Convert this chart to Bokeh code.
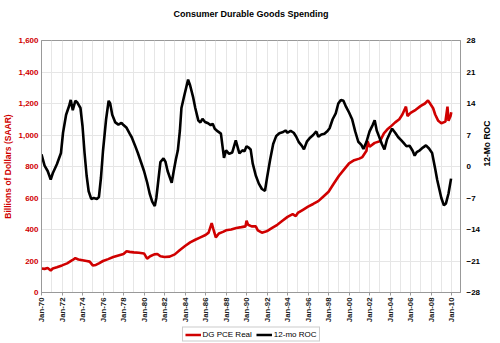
from bokeh.plotting import figure
from bokeh.models import (Range1d, LinearAxis, FixedTicker, NumeralTickFormatter,
                          Legend, LegendItem, Title)
from bokeh.layouts import column
from bokeh.embed import file_html
from bokeh.resources import INLINE
import math

# ---------------- data ----------------
pce_year = [1970.0, 1970.3, 1970.6, 1970.9, 1971.1, 1971.5, 1972.0, 1972.5, 1973.0, 1973.3,
            1973.6, 1974.0, 1974.4, 1974.7, 1975.0, 1975.3, 1975.6, 1976.0, 1976.5, 1977.0,
            1977.5, 1978.0, 1978.3, 1978.6, 1979.0, 1979.5, 1980.0, 1980.3, 1980.6, 1981.0,
            1981.3, 1981.6, 1982.0, 1982.5, 1983.0, 1983.5, 1984.0, 1984.5, 1985.0, 1985.5,
            1986.0, 1986.3, 1986.6, 1986.75, 1986.9, 1987.0, 1987.3, 1987.7, 1988.0, 1988.5,
            1989.0, 1989.5, 1989.9, 1990.0, 1990.15, 1990.5, 1990.9, 1991.1, 1991.5, 1991.8,
            1992.0, 1992.5, 1993.0, 1993.5, 1994.0, 1994.5, 1994.8, 1995.0, 1995.5, 1996.0,
            1996.5, 1997.0, 1997.5, 1998.0, 1998.5, 1999.0, 1999.5, 2000.0, 2000.5, 2001.0,
            2001.3, 2001.7, 2001.8, 2002.0, 2002.5, 2003.0, 2003.4, 2003.8, 2004.0, 2004.5,
            2004.9, 2005.2, 2005.55, 2005.7, 2006.0, 2006.5, 2007.0, 2007.4, 2007.7, 2007.9,
            2008.2, 2008.4, 2008.7, 2009.0, 2009.4, 2009.6, 2009.7, 2009.9, 2009.97]
pce_real = [152, 150, 155, 140, 152, 160, 172, 185, 205, 218,
            210, 205, 200, 196, 172, 175, 185, 200, 212, 225,
            235, 245, 262, 258, 255, 252, 248, 215, 230, 242,
            245, 230, 225, 228, 242, 270, 295, 318, 335, 350,
            365, 380, 440, 405, 372, 350, 375, 385, 395, 400,
            410, 415, 420, 455, 430, 420, 420, 395, 380, 385,
            390, 410, 430, 455, 480, 497, 485, 505, 525, 545,
            562, 580, 610, 640, 690, 740, 780, 820, 840, 850,
            860, 900, 960, 925, 950, 960, 1010, 1040, 1050, 1080,
            1100, 1130, 1180, 1120, 1140, 1160, 1185, 1200, 1220, 1200,
            1170, 1130, 1090, 1075, 1085, 1180, 1090, 1120, 1145]

roc_year = [1970.0, 1970.3, 1970.6, 1970.9, 1971.1, 1971.5, 1971.9, 1972.1, 1972.4, 1972.7,
            1972.85, 1973.05, 1973.3, 1973.5, 1973.8, 1974.0, 1974.2, 1974.4, 1974.6, 1974.85,
            1975.1, 1975.4, 1975.6, 1975.8, 1976.0, 1976.3, 1976.55, 1976.7, 1976.9, 1977.2,
            1977.5, 1977.8, 1978.0, 1978.3, 1978.6, 1978.8, 1979.1, 1979.4, 1979.7, 1980.0,
            1980.3, 1980.55, 1980.8, 1981.05, 1981.2, 1981.4, 1981.6, 1981.9, 1982.1, 1982.3,
            1982.7, 1982.9, 1983.1, 1983.3, 1983.5, 1983.65, 1983.9, 1984.3, 1984.5, 1984.8,
            1985.0, 1985.3, 1985.5, 1985.7, 1985.95, 1986.25, 1986.5, 1986.7, 1986.9, 1987.2,
            1987.5, 1987.8, 1988.0, 1988.3, 1988.6, 1988.95, 1989.3, 1989.6, 1989.8, 1990.0,
            1990.2, 1990.4, 1990.6, 1990.9, 1991.2, 1991.5, 1991.8, 1992.0, 1992.3, 1992.6,
            1992.9, 1993.2, 1993.5, 1993.8, 1994.0, 1994.3, 1994.6, 1994.85, 1995.1, 1995.4,
            1995.6, 1995.9, 1996.2, 1996.5, 1996.8, 1997.0, 1997.3, 1997.6, 1997.9, 1998.1,
            1998.4, 1998.7, 1998.95, 1999.2, 1999.45, 1999.7, 2000.0, 2000.3, 2000.6, 2000.9,
            2001.2, 2001.4, 2001.7, 2002.0, 2002.3, 2002.5, 2002.7, 2002.9, 2003.2, 2003.45,
            2003.7, 2004.0, 2004.2, 2004.5, 2004.8, 2005.1, 2005.3, 2005.6, 2005.9, 2006.2,
            2006.4, 2006.6, 2006.9, 2007.2, 2007.5, 2007.8, 2008.1, 2008.4, 2008.6, 2008.8,
            2009.0, 2009.25, 2009.45, 2009.7, 2009.95]
roc_12mo = [2.7, 0.2, -1.0, -2.9, -1.5, 0.5, 3.0, 7.5, 11.5, 13.5,
            14.8, 12.5, 14.6, 14.2, 13.0, 9.0, 3.0, -2.0, -5.5, -7.2,
            -7.0, -7.2, -6.8, -2.5, 3.5, 10.5, 14.6, 14.0, 11.5, 9.8,
            9.3, 9.7, 9.2, 8.6, 7.3, 6.5, 4.8, 3.0, 1.0, -1.0,
            -3.5, -6.0, -7.8, -8.8, -7.0, -3.0, 1.0, 1.8, 1.0, -1.0,
            -3.6, -1.0, 1.5, 3.6, 8.0, 13.0, 15.5, 19.3, 18.0, 15.3,
            13.0, 10.2, 9.8, 10.6, 9.9, 9.6, 9.2, 9.5, 8.4, 7.8,
            7.3, 1.9, 3.6, 2.8, 3.1, 5.8, 2.9, 3.6, 3.4, 4.5,
            4.2, 3.8, 0.7, -2.0, -3.8, -5.0, -5.4, -2.5, 1.5, 5.0,
            6.8, 7.4, 7.6, 8.0, 7.5, 7.9, 7.5, 6.6, 5.4, 4.6,
            3.8, 5.6, 6.4, 7.0, 7.8, 6.6, 7.1, 7.3, 7.9, 8.5,
            10.5, 11.8, 14.0, 14.8, 14.6, 13.3, 12.0, 10.5, 7.8, 5.5,
            4.8, 3.9, 5.5, 7.8, 9.2, 10.3, 8.0, 6.8, 5.0, 3.8,
            6.0, 7.5, 8.4, 7.5, 6.5, 5.8, 5.3, 4.5, 4.6, 3.5,
            2.4, 3.2, 3.6, 4.2, 4.7, 4.0, 3.0, -0.5, -3.0, -5.0,
            -7.0, -8.6, -8.2, -6.0, -2.7]

x_tick_years = list(range(1970, 2011, 2))
x_tick_labels = ["Jan-%02d" % (y % 100) for y in x_tick_years]
left_ticks = [0, 200, 400, 600, 800, 1000, 1200, 1400, 1600]
right_ticks = [-28, -21, -14, -7, 0, 7, 14, 21, 28]
title_text = "Consumer Durable Goods Spending"
series_names = ["DG PCE Real", "12-mo ROC"]

RED = "#d00000"
FONT = "Liberation Sans"

p = figure(width=500, height=325, output_backend="svg", toolbar_location=None,
           x_range=Range1d(1970, 2010.87), y_range=Range1d(0, 1600),
           min_border_left=41, min_border_right=34, min_border_top=40, min_border_bottom=0)

p.outline_line_color = "#999999"
p.outline_line_width = 1
p.background_fill_color = "white"
p.border_fill_color = "white"

# title: an empty spacer title next to the frame, the real title above it
p.add_layout(Title(text=" ", text_font=FONT, text_font_size="9px", standoff=10), "above")
p.add_layout(Title(text=title_text, align="center", text_font=FONT, text_font_size="9px",
                   text_font_style="bold", text_color="black", standoff=0), "above")

p.extra_y_ranges = {"roc": Range1d(-28, 28)}

p.line(pce_year, pce_real, line_color=RED, line_width=2.6)
p.line(roc_year, roc_12mo, line_color="black", line_width=2.6, y_range_name="roc")

# x axis
xa = p.xaxis[0]
xa.ticker = FixedTicker(ticks=x_tick_years)
xa.major_label_overrides = {y: lab for y, lab in zip(x_tick_years, x_tick_labels)}
xa.major_label_orientation = math.pi / 2
xa.major_label_text_font = FONT
xa.major_label_text_font_size = "7.8px"
xa.major_label_text_font_style = "bold"
xa.major_label_text_color = "#222222"
xa.major_label_standoff = 2
xa.axis_label = None
xa.axis_label_standoff = 0
xa.axis_line_color = "#999999"
xa.major_tick_line_color = "#999999"
xa.major_tick_out = 3
xa.major_tick_in = 0
xa.minor_tick_line_color = None
xa.minor_tick_out = 0

# left axis
ya = p.yaxis[0]
ya.ticker = FixedTicker(ticks=left_ticks)
ya.formatter = NumeralTickFormatter(format="0,0")
ya.axis_label = "Billions of Dollars (SAAR)"
ya.axis_label_text_font = FONT
ya.axis_label_text_font_size = "8.5px"
ya.axis_label_text_font_style = "bold"
ya.axis_label_text_color = RED
ya.axis_label_standoff = 2
ya.major_label_text_font = FONT
ya.major_label_text_font_size = "8px"
ya.major_label_text_font_style = "bold"
ya.major_label_text_color = RED
ya.major_label_standoff = 3
ya.axis_line_color = "#999999"
ya.major_tick_line_color = None
ya.major_tick_out = 0
ya.major_tick_in = 0
ya.minor_tick_line_color = None
ya.minor_tick_out = 0

# right axis
ra = LinearAxis(y_range_name="roc", ticker=FixedTicker(ticks=right_ticks))
ra.axis_label = "12-Mo ROC"
ra.axis_label_text_font = FONT
ra.axis_label_text_font_size = "8.5px"
ra.axis_label_text_font_style = "bold"
ra.axis_label_text_color = "black"
ra.axis_label_standoff = 4
try:
    ra.axis_label_orientation = math.pi / 2
except Exception:
    pass
ra.major_label_text_font = FONT
ra.major_label_text_font_size = "8px"
ra.major_label_text_font_style = "bold"
ra.major_label_text_color = "black"
ra.major_label_standoff = 6
ra.axis_line_color = "#999999"
ra.major_tick_line_color = None
ra.major_tick_out = 0
ra.major_tick_in = 0
ra.minor_tick_line_color = None
ra.minor_tick_out = 0
p.add_layout(ra, "right")

# grid
p.xgrid.ticker = FixedTicker(ticks=list(range(1970, 2011)))
p.xgrid.grid_line_color = "#e6e6e6"
p.ygrid.ticker = FixedTicker(ticks=left_ticks)
p.ygrid.grid_line_color = "#e6e6e6"

# legend strip below the chart (its own small figure, same line styles)
lf = figure(width=500, height=18, output_backend="svg", toolbar_location=None,
            x_range=Range1d(0, 1), y_range=Range1d(0, 1),
            x_axis_type=None, y_axis_type=None, min_border=0)
lf.outline_line_color = None
lf.background_fill_color = "white"
lf.border_fill_color = "white"
k1 = lf.line([2], [2], line_color=RED, line_width=2.6)
k2 = lf.line([2], [2], line_color="black", line_width=2.6)
legend = Legend(items=[LegendItem(label=series_names[0], renderers=[k1]),
                       LegendItem(label=series_names[1], renderers=[k2])],
                orientation="horizontal", location="center")
legend.label_text_font = FONT
legend.label_text_font_size = "8px"
legend.label_text_color = "black"
legend.label_standoff = 2
legend.glyph_width = 16
legend.glyph_height = 8
legend.label_height = 8
legend.spacing = 4
legend.padding = 2
legend.margin = 0
legend.border_line_color = "#999999"
lf.add_layout(legend)

open("out.html", "w").write(file_html(column(p, lf), INLINE))
